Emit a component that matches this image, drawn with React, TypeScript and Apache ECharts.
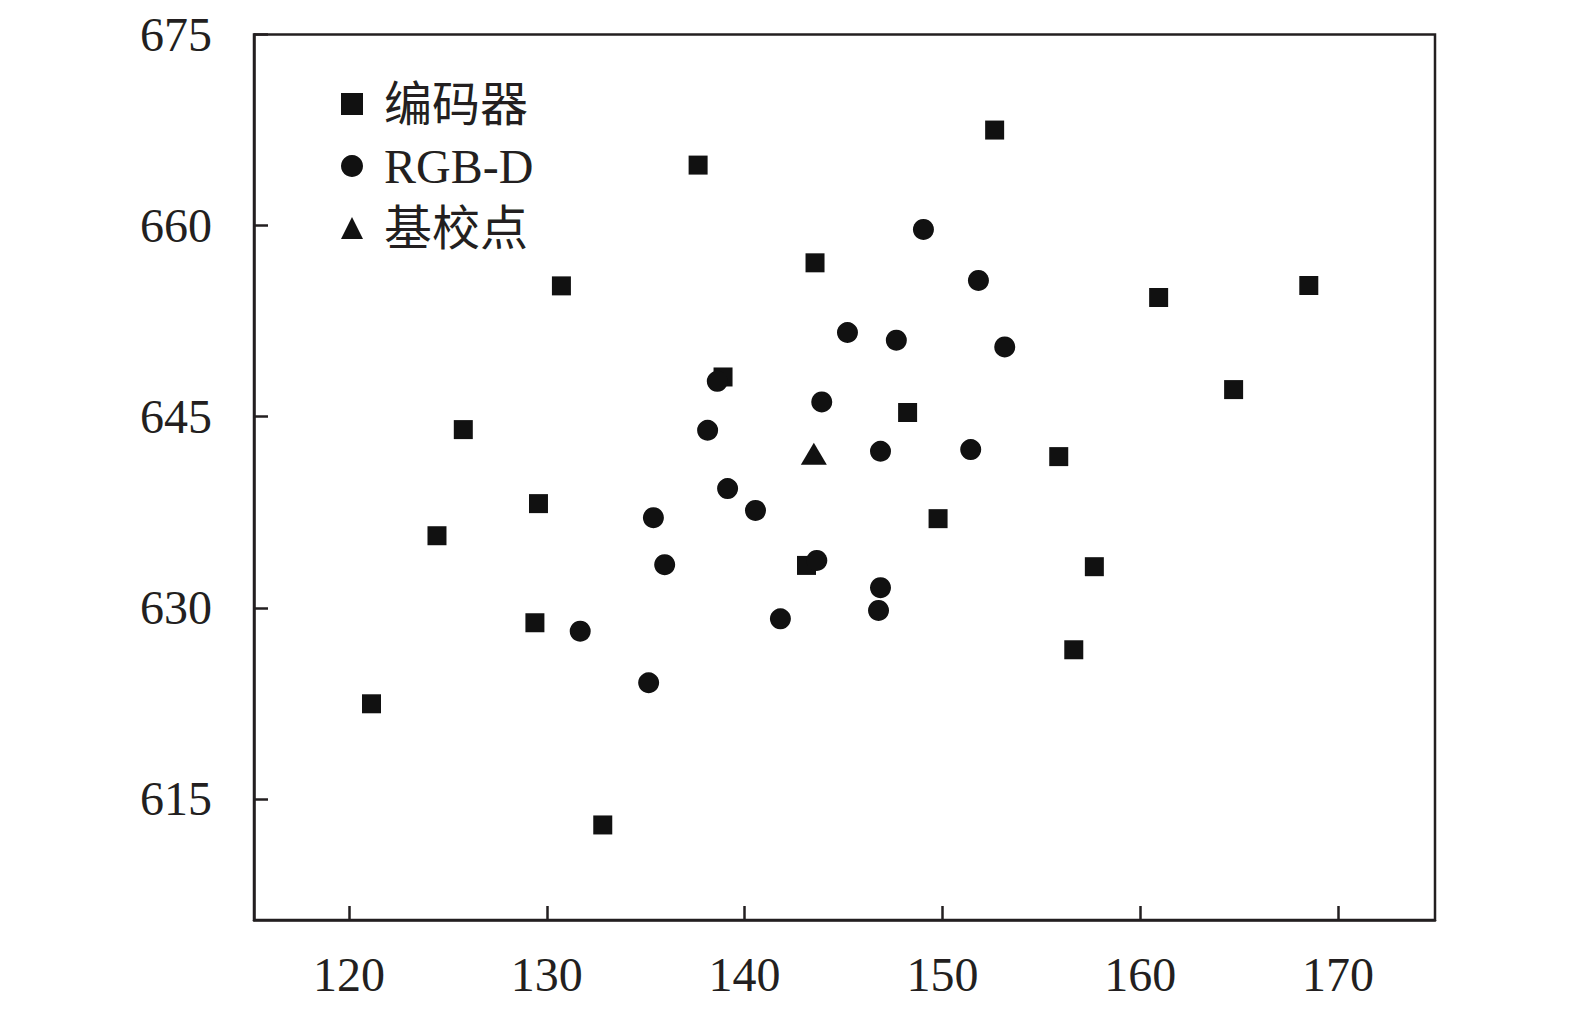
import React, { useEffect, useRef } from "react";
import * as echarts from "echarts";

const seriesNames = ["编码器", "RGB-D", "基校点"];

const encoderX = [137.65, 143.56, 130.74, 138.91, 125.78, 129.58, 124.45, 143.13, 129.4, 121.14, 132.83, 152.64, 160.93, 168.52, 164.72, 148.24, 155.88, 149.78, 157.68, 156.64];
const encoderY = [664.75, 657.08, 655.27, 648.12, 643.99, 638.18, 635.66, 633.33, 628.83, 622.47, 612.96, 667.5, 654.36, 655.3, 647.13, 645.33, 641.87, 637.0, 633.23, 626.71];

const rgbdX = [145.2, 138.62, 143.9, 138.13, 139.14, 140.55, 135.39, 135.96, 143.65, 141.81, 131.69, 135.15, 149.04, 151.82, 147.67, 153.15, 146.87, 151.43, 146.87, 146.77];
const rgbdY = [651.61, 647.78, 646.16, 643.94, 639.36, 637.65, 637.08, 633.39, 633.72, 629.14, 628.17, 624.12, 659.7, 655.7, 651.01, 650.48, 642.29, 642.42, 631.58, 629.8];

const baseX = [143.5];
const baseY = [642.1];

const xTicks = [120, 130, 140, 150, 160, 170];
const yTicks = [615, 630, 645, 660, 675];

const pairs = (xs: number[], ys: number[]) => xs.map((x, i) => [x, ys[i]]);

const INK = "#231f20";
const MARK = "#111111";
const FONT = '"Liberation Serif", "Noto Sans CJK SC", serif';

export default function App() {
  const ref = useRef<HTMLDivElement>(null);

  useEffect(() => {
    if (!ref.current) return;
    const chart = echarts.init(ref.current, null, { renderer: "svg" });
    const axisCommon = {
      axisLine: { show: true, lineStyle: { color: INK, width: 2.5 } },
      splitLine: { show: false },
    };
    chart.setOption({
      animation: false,
      backgroundColor: "#ffffff",
      grid: {
        left: 254,
        top: 34.5,
        right: 140,
        bottom: 95,
        show: true,
        borderColor: INK,
        borderWidth: 2.5,
      },
      legend: {
        orient: "vertical",
        left: 336,
        top: 75,
        itemWidth: 22,
        itemHeight: 22,
        itemGap: 14,
        data: seriesNames,
        itemStyle: { opacity: 1 },
        textStyle: {
          fontFamily: FONT,
          fontSize: 48,
          color: INK,
          lineHeight: 48,
          padding: [0, 0, 0, 16],
        },
      },
      xAxis: {
        type: "value",
        min: 115.2,
        max: 174.9,
        ...axisCommon,
        axisTick: { show: true, inside: true, length: 14, lineStyle: { color: INK, width: 2.5 }, customValues: xTicks },
        axisLabel: { show: true, customValues: xTicks, margin: 30, fontFamily: FONT, fontSize: 48, color: INK },
      },
      yAxis: {
        type: "value",
        min: 605.5,
        max: 675,
        ...axisCommon,
        axisTick: { show: true, inside: true, length: 14, lineStyle: { color: INK, width: 2.5 }, customValues: yTicks },
        axisLabel: { show: true, customValues: yTicks, margin: 42, fontFamily: FONT, fontSize: 48, color: INK },
      },
      series: [
        {
          name: seriesNames[0],
          type: "scatter",
          symbol: "rect",
          symbolSize: 19,
          itemStyle: { color: MARK, opacity: 1 },
          data: pairs(encoderX, encoderY),
        },
        {
          name: seriesNames[1],
          type: "scatter",
          symbol: "circle",
          symbolSize: 21,
          itemStyle: { color: MARK, opacity: 1 },
          data: pairs(rgbdX, rgbdY),
        },
        {
          name: seriesNames[2],
          type: "scatter",
          symbol: "triangle",
          symbolSize: [26, 22],
          itemStyle: { color: MARK, opacity: 1 },
          data: pairs(baseX, baseY),
        },
      ],
    });
    return () => chart.dispose();
  }, []);

  return (
    <div
      ref={ref}
      style={{ position: "absolute", left: 0, top: 0, width: 1575, height: 1015, background: "#fff" }}
    />
  );
}
